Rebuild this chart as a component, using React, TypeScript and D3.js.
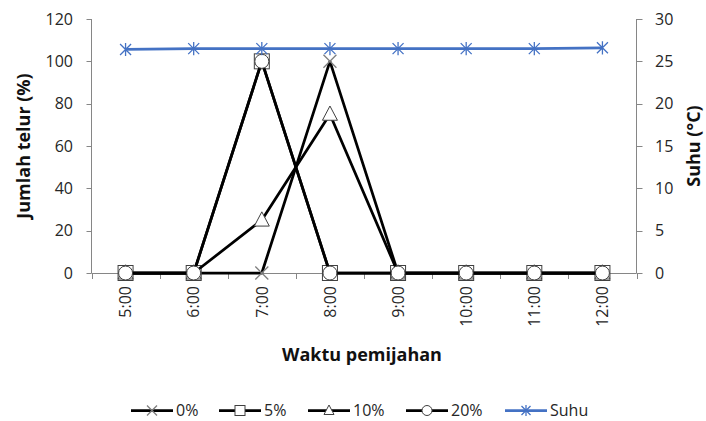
import * as d3 from "d3";
import { useEffect, useRef } from "react";

const categories = ["5:00", "6:00", "7:00", "8:00", "9:00", "10:00", "11:00", "12:00"];
const s0 = [0, 0, 0, 100, 0, 0, 0, 0];
const s5 = [0, 0, 100, 0, 0, 0, 0, 0];
const s10 = [0, 0, 25, 75, 0, 0, 0, 0];
const s20 = [0, 0, 100, 0, 0, 0, 0, 0];
const suhu = [26.4, 26.5, 26.5, 26.5, 26.5, 26.5, 26.5, 26.6];
const leftTicks = [0, 20, 40, 60, 80, 100, 120];
const rightTicks = [0, 5, 10, 15, 20, 25, 30];

const FONT = "'Open Sans', sans-serif";
const BLUE = "#4472C4";

export default function App() {
    const ref = useRef<SVGSVGElement>(null);

    useEffect(() => {
        const svg = d3.select(ref.current);
        svg.selectAll("*").remove();

        const left = 91.5, right = 636.5, top = 19, bottom = 273;

        const X = d3.scaleBand().domain(categories).range([left, right]);
        const cx = (i: number) => (X(categories[i]) as number) + X.bandwidth() / 2;
        const Y = d3.scaleLinear().domain([0, 120]).range([bottom, top]);
        const Y2 = d3.scaleLinear().domain([0, 30]).range([bottom, top]);

        // ---- axes ----
        const axisColor = "#868686";
        const gAx = svg.append("g");
        gAx.append("line").attr("x1", left).attr("x2", left).attr("y1", top).attr("y2", bottom)
            .attr("stroke", axisColor);
        gAx.append("line").attr("x1", right).attr("x2", right).attr("y1", top).attr("y2", bottom)
            .attr("stroke", axisColor);
        gAx.append("line").attr("x1", left).attr("x2", right).attr("y1", bottom + 0.5).attr("y2", bottom + 0.5)
            .attr("stroke", axisColor);

        leftTicks.forEach(t => {
            const y = Math.round(Y(t)) + 0.5;
            gAx.append("line").attr("x1", left - 5).attr("x2", left).attr("y1", y).attr("y2", y).attr("stroke", axisColor);
            gAx.append("text").text(t).attr("x", 73).attr("y", Y(t)).attr("dy", "0.36em")
                .attr("text-anchor", "end").attr("font-family", FONT).attr("font-size", 16).attr("fill", "#262626");
        });
        rightTicks.forEach(t => {
            const y = Math.round(Y2(t)) + 0.5;
            gAx.append("line").attr("x1", right).attr("x2", right + 6).attr("y1", y).attr("y2", y).attr("stroke", axisColor);
            gAx.append("text").text(t).attr("x", 655).attr("y", Y2(t)).attr("dy", "0.36em")
                .attr("text-anchor", "start").attr("font-family", FONT).attr("font-size", 16).attr("fill", "#262626");
        });
        for (let i = 0; i <= categories.length; i++) {
            const x = Math.round(left + i * X.bandwidth()) + 0.5;
            gAx.append("line").attr("x1", x).attr("x2", x).attr("y1", bottom).attr("y2", bottom + 6).attr("stroke", axisColor);
        }
        categories.forEach((c, i) => {
            gAx.append("text").text(c)
                .attr("transform", `translate(${cx(i)},${286}) rotate(-90)`)
                .attr("dy", "0.36em").attr("text-anchor", "end")
                .attr("font-family", FONT).attr("font-size", 16).attr("fill", "#262626");
        });

        // ---- titles ----
        svg.append("text").text("Jumlah telur (%)")
            .attr("transform", `translate(30,${(top + bottom) / 2}) rotate(-90)`)
            .attr("text-anchor", "middle").attr("font-family", FONT).attr("font-weight", "bold")
            .attr("font-size", 18).attr("fill", "#111");
        svg.append("text").text("Suhu (°C)")
            .attr("transform", `translate(700,${(top + bottom) / 2}) rotate(-90)`)
            .attr("text-anchor", "middle").attr("font-family", FONT).attr("font-weight", "bold")
            .attr("font-size", 18).attr("fill", "#111");
        svg.append("text").text("Waktu pemijahan")
            .attr("x", 362).attr("y", 361)
            .attr("text-anchor", "middle").attr("font-family", FONT).attr("font-weight", "bold")
            .attr("font-size", 18).attr("fill", "#111");

        // ---- markers ----
        type M = "x" | "square" | "triangle" | "circle" | "star";
        const drawMarker = (g: any, kind: M, x: number, y: number, s: number) => {
            if (kind === "x") {
                g.append("path").attr("d", `M${x - s},${y - s}L${x + s},${y + s}M${x - s},${y + s}L${x + s},${y - s}`)
                    .attr("stroke", "#7f7f7f").attr("stroke-width", 1.3).attr("fill", "none");
            } else if (kind === "square") {
                g.append("rect").attr("x", x - s).attr("y", y - s).attr("width", 2 * s).attr("height", 2 * s)
                    .attr("fill", "white").attr("stroke", "#404040").attr("stroke-width", 1);
            } else if (kind === "triangle") {
                g.append("path").attr("d", `M${x},${y - s * 1.1}L${x + s},${y + s * 0.8}L${x - s},${y + s * 0.8}Z`)
                    .attr("fill", "white").attr("stroke", "#404040").attr("stroke-width", 1);
            } else if (kind === "circle") {
                g.append("circle").attr("cx", x).attr("cy", y).attr("r", s)
                    .attr("fill", "white").attr("stroke", "#404040").attr("stroke-width", 1);
            } else {
                g.append("path").attr("d", `M${x - s},${y - s}L${x + s},${y + s}M${x - s},${y + s}L${x + s},${y - s}M${x},${y - s * 1.2}L${x},${y + s * 1.2}`)
                    .attr("stroke", BLUE).attr("stroke-width", 1.3).attr("fill", "none");
            }
        };

        const series = [
            { name: "0%", data: s0, marker: "x" as M, size: 6.5, color: "#000", scale: Y },
            { name: "5%", data: s5, marker: "square" as M, size: 7.5, color: "#000", scale: Y },
            { name: "10%", data: s10, marker: "triangle" as M, size: 7.5, color: "#000", scale: Y },
            { name: "20%", data: s20, marker: "circle" as M, size: 7, color: "#000", scale: Y },
            { name: "Suhu", data: suhu, marker: "star" as M, size: 5.5, color: BLUE, scale: Y2 },
        ];

        const gPlot = svg.append("g");
        series.forEach(s => {
            const line = d3.line<number>().x((_, i) => cx(i)).y(d => s.scale(d));
            gPlot.append("path").attr("d", line(s.data)).attr("fill", "none")
                .attr("stroke", s.color).attr("stroke-width", 2.75).attr("stroke-linejoin", "round");
            s.data.forEach((d, i) => drawMarker(gPlot, s.marker, cx(i), s.scale(d), s.size));
        });

        // ---- legend ----
        const legendX = [131, 219, 308, 406, 505];
        const ly = 410.5;
        const gLeg = svg.append("g");
        series.forEach((s, i) => {
            const x0 = legendX[i];
            gLeg.append("line").attr("x1", x0).attr("x2", x0 + 42).attr("y1", ly).attr("y2", ly)
                .attr("stroke", s.color).attr("stroke-width", 2.75);
            drawMarker(gLeg, s.marker, x0 + 21, ly, s.marker === "star" ? 4.5 : 5);
            gLeg.append("text").text(s.name).attr("x", x0 + 45).attr("y", ly).attr("dy", "0.36em")
                .attr("font-family", FONT).attr("font-size", 16).attr("fill", "#262626");
        });
    }, []);

    return (
        <svg ref={ref} width={706} height={421}
            style={{ position: "absolute", left: 0, top: 0, background: "white", display: "block" }} />
    );
}
